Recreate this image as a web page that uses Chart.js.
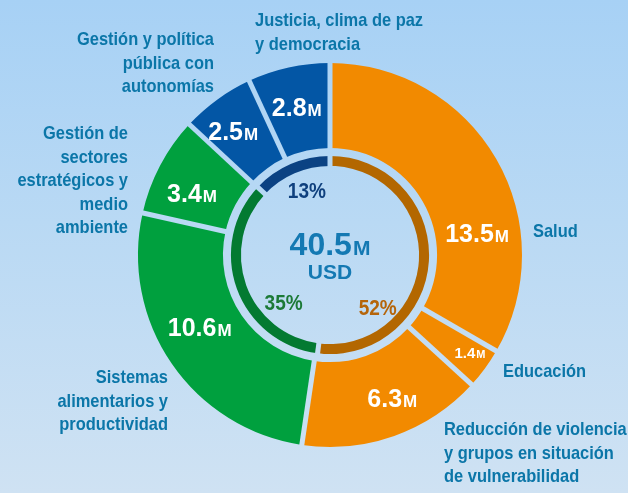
<!DOCTYPE html>
<html>
<head>
<meta charset="utf-8">
<script src="https://cdn.jsdelivr.net/npm/chart.js@4.4.1/dist/chart.umd.min.js"></script>
<style>
  html, body { margin: 0; padding: 0; }
  body {
    width: 628px; height: 493px; overflow: hidden;
    background: linear-gradient(180deg, #a7d1f5 0%, #b9d9f4 45%, #cfe2f3 100%);
  }
  canvas { display: block; }
</style>
</head>
<body>
<canvas id="fundsChart" width="628" height="493"></canvas>
<script>
// funding per area, millions USD (clockwise from top)
const categories = [
  'Salud',
  'Educación',
  'Reducción de violencia y grupos en situación de vulnerabilidad',
  'Sistemas alimentarios y productividad',
  'Gestión de sectores estratégicos y medio ambiente',
  'Gestión y política pública con autonomías',
  'Justicia, clima de paz y democracia'
];
const amounts = [13.5, 1.4, 6.3, 10.6, 3.4, 2.5, 2.8];
const groupShares = [52, 35, 13];
const currency = 'USD';

const sliceColors = ['#f28a00', '#f28a00', '#f28a00', '#00a03e', '#00a03e', '#0356a5', '#0356a5'];
const groupColors = ['#b36700', '#037a31', '#0b4283'];
const groupTextColors = ['#b5650a', '#1c7a37', '#0f407e'];
const labelBlue = '#0b76a8';
const wide = '"Liberation Sans", "DejaVu Sans", sans-serif';

// where each value label sits inside its slice: [fraction along arc, fraction across ring]
const valuePlace = [[0.68, 0.49], [0.4, 0.75], [0.43, 0.58], [0.56, 0.49], [0.38, 0.52], [0.41, 0.59], [0.49, 0.52]];
const pctPlace = [[0.74, 17], [0.29, 22], [0.57, 22]];

// outer text labels: lines, x, first baseline, align
const outerLabels = [
  [['Salud'], 533, 237, 'left'],
  [['Educación'], 503, 377, 'left'],
  [['Reducción de violencia', 'y grupos en situación', 'de vulnerabilidad'], 444, 435, 'left'],
  [['Sistemas', 'alimentarios y', 'productividad'], 168, 383, 'right'],
  [['Gestión de', 'sectores', 'estratégicos y', 'medio', 'ambiente'], 128, 139, 'right'],
  [['Gestión y política', 'pública con', 'autonomías'], 214, 45, 'right'],
  [['Justicia, clima de paz', 'y democracia'], 255, 26, 'left']
];

let squeeze = 0.8;

// condensed look: draw text squeezed horizontally
function narrowText(ctx, t, x, y, align) {
  const w = ctx.measureText(t).width * squeeze;
  let left = x;
  if (align === 'right') left = x - w;
  else if (align === 'center') left = x - w / 2;
  ctx.save();
  ctx.translate(left, y);
  ctx.scale(squeeze, 1);
  ctx.textAlign = 'left';
  ctx.fillText(t, 0, 0);
  ctx.restore();
}

function drawValue(ctx, num, x, y, big, small, color) {
  ctx.font = 'bold ' + big + 'px ' + wide;
  const w1 = ctx.measureText(num).width;
  ctx.font = 'bold ' + small + 'px ' + wide;
  const w2 = ctx.measureText('M').width;
  const left = x - (w1 + w2 + 1) / 2;
  ctx.fillStyle = color;
  ctx.textAlign = 'left';
  ctx.textBaseline = 'alphabetic';
  const base = y + big * 0.36;
  ctx.font = 'bold ' + big + 'px ' + wide;
  ctx.fillText(num, left, base);
  ctx.font = 'bold ' + small + 'px ' + wide;
  ctx.fillText('M', left + w1 + 1, base);
}

const gapsAndLabels = {
  id: 'gapsAndLabels',
  afterDatasetsDraw(chart) {
    const ctx = chart.ctx;
    // cut straight gaps between slices
    ctx.save();
    ctx.globalCompositeOperation = 'destination-out';
    ctx.strokeStyle = '#000';
    ctx.lineWidth = 5;
    [0, 2].forEach(di => {
      chart.getDatasetMeta(di).data.forEach(arc => {
        const a = arc.startAngle;
        ctx.beginPath();
        ctx.moveTo(arc.x + Math.cos(a) * (arc.innerRadius - 2), arc.y + Math.sin(a) * (arc.innerRadius - 2));
        ctx.lineTo(arc.x + Math.cos(a) * (arc.outerRadius + 2), arc.y + Math.sin(a) * (arc.outerRadius + 2));
        ctx.stroke();
      });
    });
    ctx.restore();

    ctx.save();
    // category labels around; squeeze so a known line gets its narrow width
    ctx.font = 'bold 19px ' + wide;
    squeeze = 137 / ctx.measureText('Gestión y política').width;
    ctx.fillStyle = labelBlue;
    ctx.textBaseline = 'alphabetic';
    outerLabels.forEach(([lines, x, y, align]) => {
      lines.forEach((t, k) => narrowText(ctx, t, x, y + k * 23.5, align));
    });

    // values in slices
    chart.getDatasetMeta(0).data.forEach((arc, i) => {
      const [fa, fr] = valuePlace[i];
      const a = arc.startAngle + (arc.endAngle - arc.startAngle) * fa;
      const r = arc.innerRadius + (arc.outerRadius - arc.innerRadius) * fr;
      const small = amounts[i] < 2;
      drawValue(ctx, amounts[i].toFixed(1), arc.x + Math.cos(a) * r, arc.y + Math.sin(a) * r,
        small ? 15 : 25, small ? 11 : 17, '#ffffff');
    });
    // percentages inside inner ring
    ctx.font = 'bold 22px ' + wide;
    ctx.textBaseline = 'middle';
    chart.getDatasetMeta(2).data.forEach((arc, i) => {
      const [fa, dr] = pctPlace[i];
      const a = arc.startAngle + (arc.endAngle - arc.startAngle) * fa;
      const r = arc.innerRadius - dr;
      ctx.fillStyle = groupTextColors[i];
      narrowText(ctx, groupShares[i] + '%', arc.x + Math.cos(a) * r, arc.y + Math.sin(a) * r, 'center');
    });
    // total in the centre
    const c = chart.getDatasetMeta(0).data[0];
    const total = amounts.reduce((s, v) => s + v, 0);
    drawValue(ctx, total.toFixed(1), c.x, c.y - 12, 32, 21, '#1479b3');
    ctx.font = 'bold 21px ' + wide;
    ctx.fillStyle = '#1479b3';
    ctx.textAlign = 'center';
    ctx.textBaseline = 'middle';
    ctx.fillText(currency, c.x, c.y + 18);
    ctx.restore();
  }
};

new Chart(document.getElementById('fundsChart'), {
  type: 'doughnut',
  data: {
    labels: categories,
    datasets: [
      { data: amounts, backgroundColor: sliceColors, borderWidth: 0, weight: 85 },
      { data: [1], backgroundColor: 'rgba(0,0,0,0)', borderWidth: 0, weight: 8 },
      { data: groupShares, backgroundColor: groupColors, borderWidth: 0, weight: 10 }
    ]
  },
  options: {
    responsive: false,
    animation: false,
    cutout: '46.4%',
    layout: { padding: { left: 138, right: 106, top: 63, bottom: 46 } },
    plugins: { legend: { display: false }, tooltip: { enabled: false } },
    events: []
  },
  plugins: [gapsAndLabels]
});
</script>
</body>
</html>
